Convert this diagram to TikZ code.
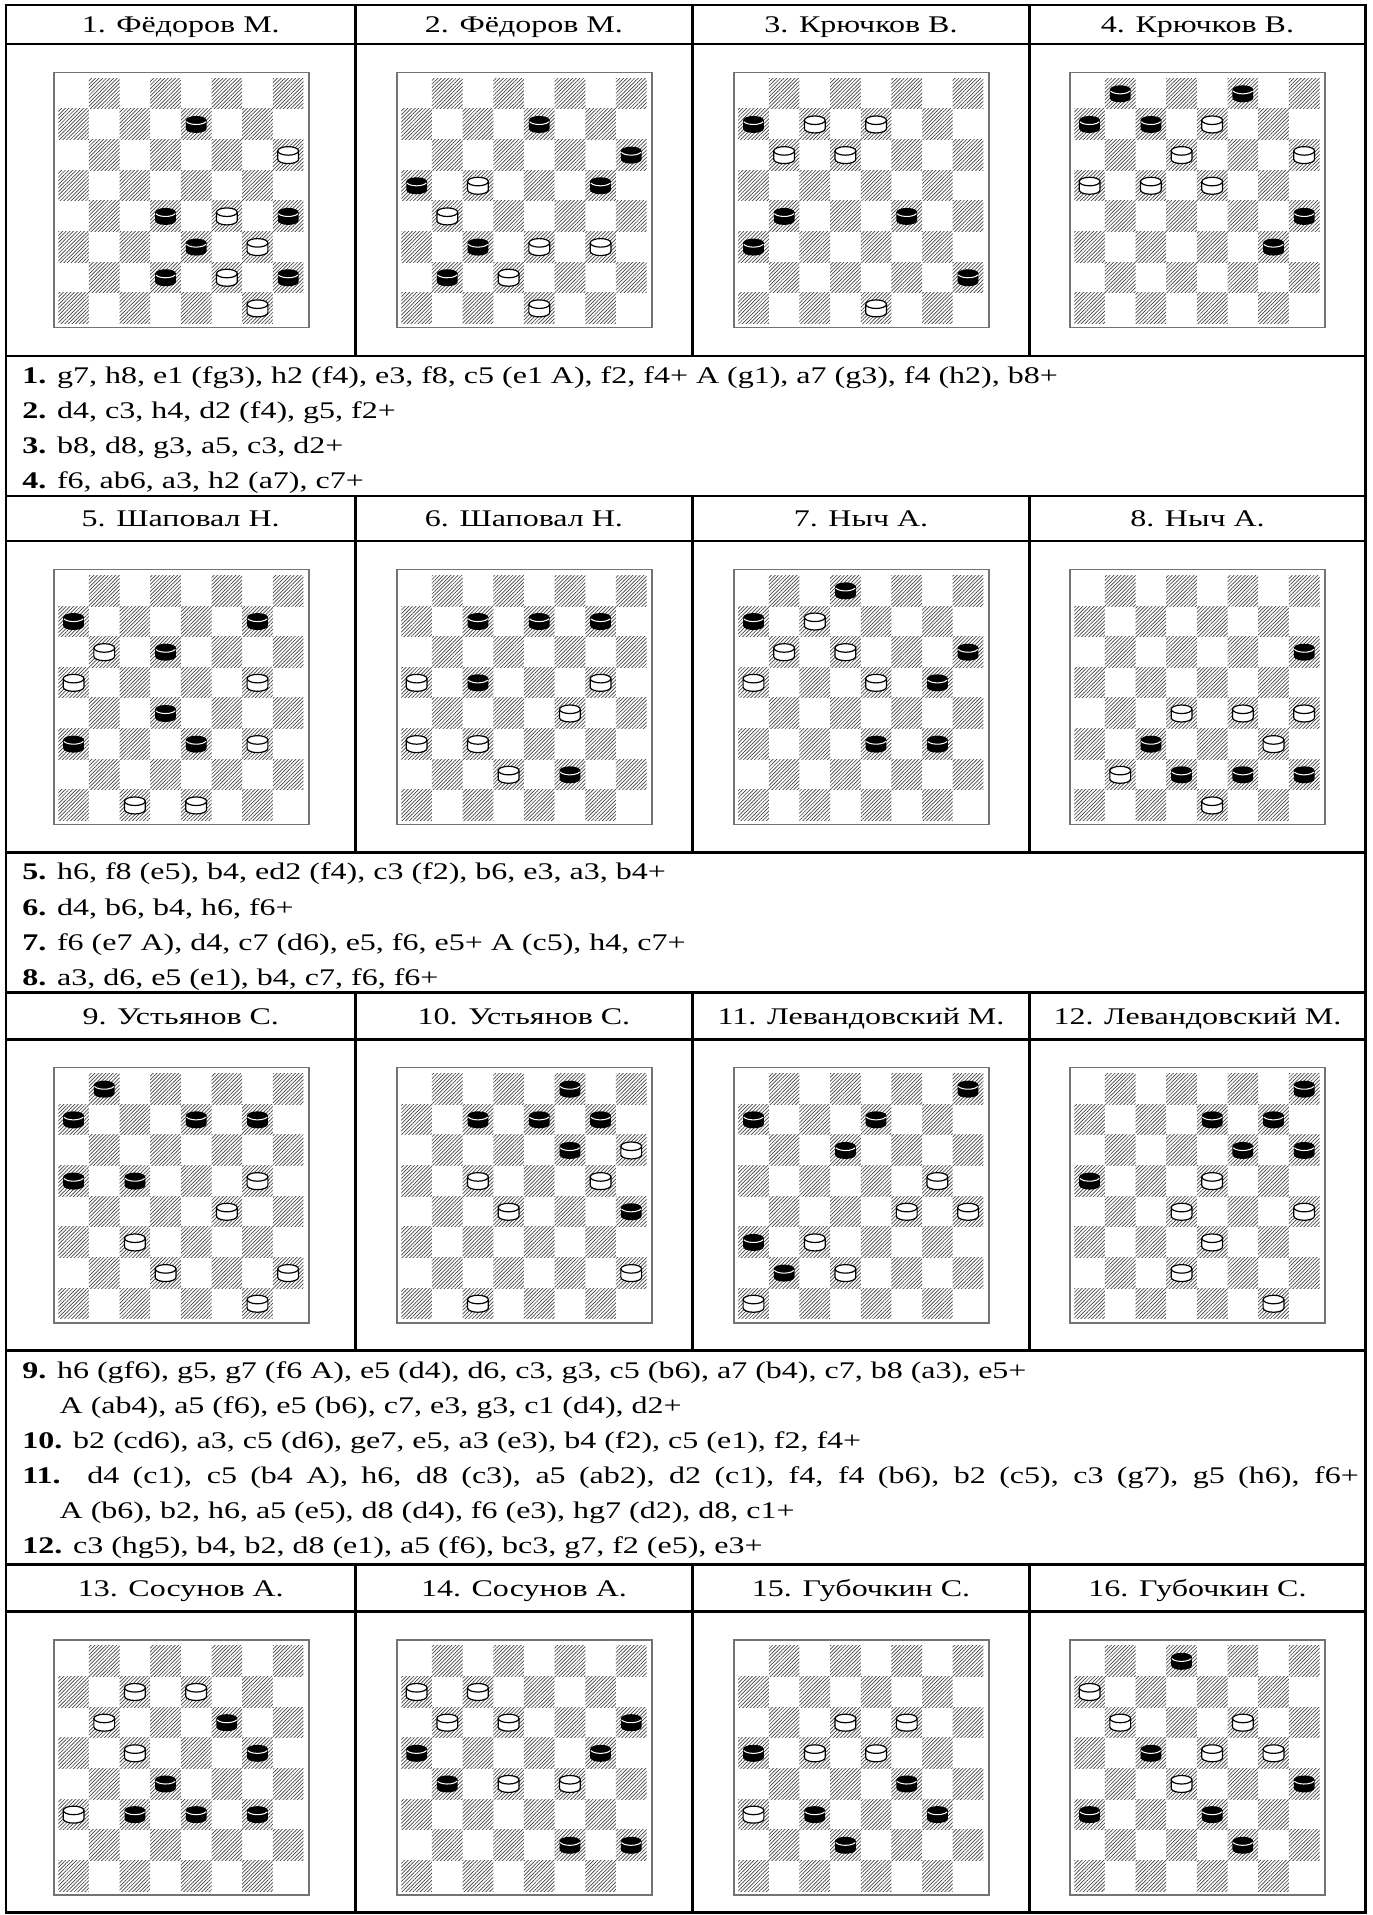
\documentclass[tikz,border=0pt]{standalone}
\usepackage{fontspec}
\setmainfont{Liberation Serif}
\usetikzlibrary{patterns.meta}
\tikzset{tl/.style={line width=1.5pt},
 frm/.style={draw=black!55,line width=.9pt},
 dk/.style={pattern={Lines[angle=45,distance=1.5pt,line width=.4pt]},pattern color=black!75},
 hd/.style={font=\fontsize{13.9}{16}\selectfont,xscale=1.34,anchor=base,inner sep=0pt},
 mv/.style={hd,anchor=base west},
 wman/.pic={\draw[line width=.7pt,fill=white] (-8.5,-3.3)--(-8.5,3.6) arc[start angle=180,end angle=0,x radius=8.5,y radius=3.5]--(8.5,-3.3);
  \draw[line width=.7pt,fill=white] (0,-3.3) ellipse[x radius=8.5,y radius=3.5];},
 bman/.pic={\fill (-8.5,-3.3)--(-8.5,3.6) arc[start angle=180,end angle=0,x radius=8.5,y radius=3.5]--(8.5,-3.3)--cycle;
  \fill (0,-3.3) ellipse[x radius=8.5,y radius=3.5];
  \draw[white,line width=.6pt] (0,-3.3)++(160:8.5 and 3.5) arc[start angle=160,end angle=20,x radius=8.5,y radius=3.5];}}
% board: x, y of the frame, white men, black men
\newcommand\board[4]{\begin{scope}[shift={(#1,#2)}]
 \draw[frm] (0,0) rectangle (209,209);
 \foreach \f [count=\cx] in {a,b,c,d,e,f,g,h}
  \foreach \rk in {1,...,8}{\coordinate (\f\rk) at ({3.6+(\cx-.5)*25.1},{4.9+(8.5-\rk)*25.1});
   \ifodd\numexpr\cx+\rk\relax\else\fill[dk] ({3.6+(\cx-1)*25.1},{4.9+(8-\rk)*25.1}) rectangle ++(25.1,25.1);\fi}
 \foreach \s in {#3} \pic at (\s) {wman};
 \foreach \s in {#4} \pic at (\s) {bman};
\end{scope}}
\begin{document}
\begin{tikzpicture}[x=.025cm,y=-.025cm]
\useasboundingbox (0,0) rectangle (1124,1568);
% table
\draw[tl] (5,4) rectangle (1118,1566);
\foreach \y in {36,291.5,406,443,698,812.5,851,1106,1281,1319.5} \draw[tl] (5,\y)--(1118,\y);
\foreach \ya/\yb in {4/291.5,406/698,812.5/1106,1281/1566} \foreach \x in {291,567,843} \draw[tl] (\x,\ya)--(\x,\yb);
% headers
\node[hd] (h1) at (148,27) {1. Фёдоров М.};\node[hd] (h2) at (429,27) {2. Фёдоров М.};
\node[hd] (h3) at (705,27) {3. Крючков В.};\node[hd] (h4) at (980.5,27) {4. Крючков В.};
\node[hd] (h5) at (148,431) {5. Шаповал Н.};\node[hd] (h6) at (429,431) {6. Шаповал Н.};
\node[hd] (h7) at (705,431) {7. Ныч А.};\node[hd] (h8) at (980.5,431) {8. Ныч А.};
\node[hd] (h9) at (148,839) {9. Устьянов С.};\node[hd] (h10) at (429,839) {10. Устьянов С.};
\node[hd] (h11) at (705,839) {11. Левандовский М.};\node[hd] (h12) at (980.5,839) {12. Левандовский М.};
\node[hd] (h13) at (148,1307.5) {13. Сосунов А.};\node[hd] (h14) at (429,1307.5) {14. Сосунов А.};
\node[hd] (h15) at (705,1307.5) {15. Губочкин С.};\node[hd] (h16) at (980.5,1307.5) {16. Губочкин С.};
% boards
\board{44.1}{59.2}{h6,f4,g3,f2,g1}{e7,d4,h4,e3,d2,h2}
\board{325}{59.2}{c5,b4,e3,g3,d2,e1}{e7,h6,a5,g5,c3,b2}
\board{600.8}{59.2}{c7,e7,b6,d6,e1}{a7,b4,f4,a3,h2}
\board{876}{59.2}{e7,d6,h6,a5,c5,e5}{b8,f8,a7,c7,h4,g3}
\board{44.1}{466.2}{b6,a5,g5,g3,c1,e1}{a7,g7,d6,d4,a3,e3}
\board{325}{466.2}{a5,g5,f4,a3,c3,d2}{c7,e7,g7,c5,f2}
\board{600.8}{466.2}{c7,b6,d6,a5,e5}{d8,a7,h6,g5,e3,g3}
\board{876}{466.2}{d4,f4,h4,g3,b2,e1}{h6,c3,d2,f2,h2}
\board{44.1}{874.2}{g5,f4,c3,d2,h2,g1}{b8,a7,e7,g7,a5,c5}
\board{325}{874.2}{h6,c5,g5,d4,h2,c1}{f8,c7,e7,g7,f6,h4}
\board{600.8}{874.2}{g5,f4,h4,c3,d2,a1}{h8,a7,e7,d6,a3,b2}
\board{876}{874.2}{e5,d4,h4,e3,d2,g1}{h8,e7,g7,f6,h6,a5}
\board{44.1}{1342.7}{c7,e7,b6,c5,a3}{f6,g5,d4,c3,e3,g3}
\board{325}{1342.7}{a7,c7,b6,d6,d4,f4}{h6,a5,g5,b4,f2,h2}
\board{600.8}{1342.7}{d6,f6,c5,e5,a3}{a5,f4,c3,g3,d2}
\board{876}{1342.7}{a7,b6,f6,e5,g5,d4}{d8,c5,h4,a3,e3,f2}
% solutions
\node[mv] (m1) at (18,314) {\textbf{1.} g7, h8, e1 (fg3), h2 (f4), e3, f8, c5 (e1 A), f2, f4+ A (g1), a7 (g3), f4 (h2), b8+};
\node[mv] (m2) at (18,342.7) {\textbf{2.} d4, c3, h4, d2 (f4), g5, f2+};
\node[mv] (m3) at (18,371.4) {\textbf{3.} b8, d8, g3, a5, c3, d2+};
\node[mv] (m4) at (18,400.1) {\textbf{4.} f6, ab6, a3, h2 (a7), c7+};
\node[mv] (m5) at (18,720.5) {\textbf{5.} h6, f8 (e5), b4, ed2 (f4), c3 (f2), b6, e3, a3, b4+};
\node[mv] (m6) at (18,749.2) {\textbf{6.} d4, b6, b4, h6, f6+};
\node[mv] (m7) at (18,777.9) {\textbf{7.} f6 (e7 A), d4, c7 (d6), e5, f6, e5+ A (c5), h4, c7+};
\node[mv] (m8) at (18,806.6) {\textbf{8.} a3, d6, e5 (e1), b4, c7, f6, f6+};
\node[mv] (m9) at (18,1128.5) {\textbf{9.} h6 (gf6), g5, g7 (f6 A), e5 (d4), d6, c3, g3, c5 (b6), a7 (b4), c7, b8 (a3), e5+};
\node[mv] (m9a) at (48.5,1157.2) {A (ab4), a5 (f6), e5 (b6), c7, e3, g3, c1 (d4), d2+};
\node[mv] (m10) at (18,1185.9) {\textbf{10.} b2 (cd6), a3, c5 (d6), ge7, e5, a3 (e3), b4 (f2), c5 (e1), f2, f4+};
\node[mv] (m11) at (18,1214.6) {\hbox to 20.41cm{\textbf{11.} d4 (c1), c5 (b4 A), h6, d8 (c3), a5 (ab2), d2 (c1), f4, f4 (b6), b2 (c5), c3 (g7), g5 (h6), f6+}};
\node[mv] (m11a) at (48.5,1243.3) {A (b6), b2, h6, a5 (e5), d8 (d4), f6 (e3), hg7 (d2), d8, c1+};
\node[mv] (m12) at (18,1272) {\textbf{12.} c3 (hg5), b4, b2, d8 (e1), a5 (f6), bc3, g7, f2 (e5), e3+};
\end{tikzpicture}
\end{document}
